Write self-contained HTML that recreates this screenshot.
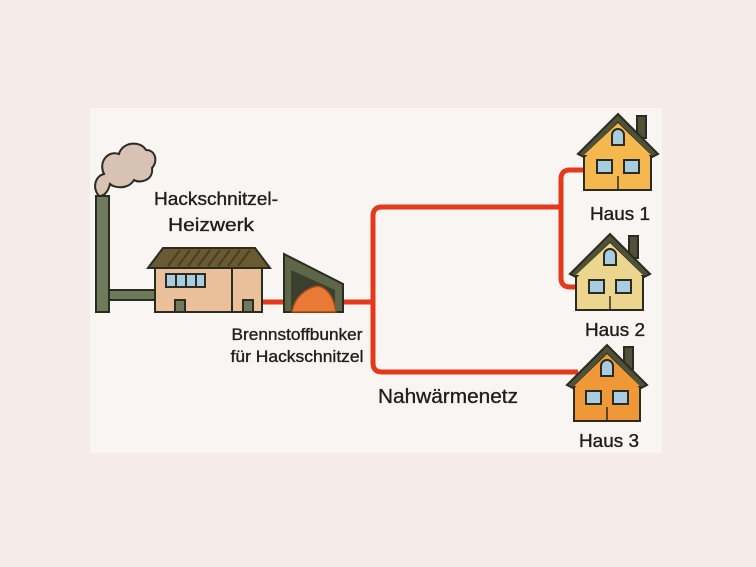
<!DOCTYPE html>
<html><head><meta charset="utf-8"><style>
html,body{margin:0;padding:0;background:#f5ebe8;}
svg{display:block}
text{font-family:"Liberation Sans",sans-serif;fill:#1e1e1e;stroke:#1e1e1e;stroke-width:0.35}
</style></head><body>
<svg width="756" height="567" viewBox="0 0 756 567">
<rect x="0" y="0" width="756" height="567" fill="#f5ebe8"/>
<rect x="90" y="108" width="572" height="345" fill="#f8f5f2"/>
<g fill="none" stroke="#e5391c" stroke-width="5" stroke-linejoin="round">
<path d="M262 302 H373"/>
<path d="M583 170 H570 Q561 170 561 179 V278 Q561 287 570 287 H580"/>
<path d="M561 207 H382 Q373 207 373 216 V363 Q373 372 382 372 H578"/>
</g>
<path d="M99 196 C92 188 95 176 104 174 C98 162 108 150 119 154 C122 142 140 140 146 150 C156 150 158 162 152 168 C154 180 140 184 134 180 C128 190 114 188 110 184 C108 192 104 196 99 196Z" fill="#d7c2b4" stroke="#2b2b22" stroke-width="2"/>
<rect x="96" y="196" width="13" height="116" fill="#6e7a5c" stroke="#2b2b22" stroke-width="2"/>
<rect x="109" y="290" width="47" height="10" fill="#6e7a5c" stroke="#2b2b22" stroke-width="2"/>
<rect x="155" y="265" width="107" height="47" fill="#e9c09a" stroke="#2b2b22" stroke-width="2"/>
<line x1="232" y1="265" x2="232" y2="312" stroke="#2b2b22" stroke-width="2"/>
<path d="M148 268 L163 248 L255 248 L270 268 Z" fill="#6a5a32" stroke="#2b2b22" stroke-width="2"/>
<g stroke="#4a3e22" stroke-width="2">
<line x1="168" y1="266" x2="180" y2="250"/><line x1="178" y1="266" x2="190" y2="250"/><line x1="188" y1="266" x2="200" y2="250"/><line x1="198" y1="266" x2="210" y2="250"/><line x1="208" y1="266" x2="220" y2="250"/><line x1="218" y1="266" x2="230" y2="250"/><line x1="228" y1="266" x2="240" y2="250"/><line x1="238" y1="266" x2="250" y2="250"/>
</g>
<rect x="166" y="274" width="39" height="13" fill="#a9cde0" stroke="#2b2b22" stroke-width="2"/>
<g stroke="#2b2b22" stroke-width="2"><line x1="176" y1="274" x2="176" y2="287"/><line x1="186" y1="274" x2="186" y2="287"/><line x1="196" y1="274" x2="196" y2="287"/></g>
<rect x="175" y="300" width="10" height="12" fill="#6e7a5c" stroke="#2b2b22" stroke-width="2"/>
<rect x="243" y="300" width="10" height="12" fill="#6e7a5c" stroke="#2b2b22" stroke-width="2"/>
<path d="M284 254 L343 284 L343 312 L284 312 Z" fill="#5e6648" stroke="#2b2b22" stroke-width="2"/>
<path d="M291 270 L335 290 L335 312 L291 312 Z" fill="#3a3f2e"/>
<path d="M292 312 C294 298 305 288 318 286 C328 288 334 298 336 312 Z" fill="#e87a36" stroke="#a84a1a" stroke-width="1.5"/>
<g>
<rect x="584" y="150" width="67" height="40" fill="#f4b84e" stroke="#2b2b22" stroke-width="2"/>
<rect x="637" y="116" width="9" height="22" fill="#4e5236" stroke="#2b2b22" stroke-width="2"/>
<path d="M578 154 L618 114 L658 154 L652 157 L618 123 L584 157 Z" fill="#4e5236" stroke="#2b2b22" stroke-width="2"/>
<path d="M584 155 L618 123 L651 155 Z" fill="#f4b84e"/>
<path d="M612 145 V135 A6 6 0 0 1 624 135 V145 Z" fill="#a9cde0" stroke="#2b2b22" stroke-width="2"/>
<rect x="597" y="160" width="15" height="13" fill="#a9cde0" stroke="#2b2b22" stroke-width="2"/>
<rect x="624" y="160" width="15" height="13" fill="#a9cde0" stroke="#2b2b22" stroke-width="2"/>
<line x1="618" y1="176" x2="618" y2="190" stroke="#2b2b22" stroke-width="1.5"/>
</g>
<g>
<rect x="576" y="270" width="67" height="40" fill="#ecd58e" stroke="#2b2b22" stroke-width="2"/>
<rect x="629" y="236" width="9" height="22" fill="#4e5236" stroke="#2b2b22" stroke-width="2"/>
<path d="M570 274 L610 234 L650 274 L644 277 L610 243 L576 277 Z" fill="#4e5236" stroke="#2b2b22" stroke-width="2"/>
<path d="M576 275 L610 243 L643 275 Z" fill="#ecd58e"/>
<path d="M604 265 V255 A6 6 0 0 1 616 255 V265 Z" fill="#a9cde0" stroke="#2b2b22" stroke-width="2"/>
<rect x="589" y="280" width="15" height="13" fill="#a9cde0" stroke="#2b2b22" stroke-width="2"/>
<rect x="616" y="280" width="15" height="13" fill="#a9cde0" stroke="#2b2b22" stroke-width="2"/>
<line x1="610" y1="296" x2="610" y2="310" stroke="#2b2b22" stroke-width="1.5"/>
</g>
<g>
<rect x="574" y="381" width="66" height="40" fill="#ee9838" stroke="#2b2b22" stroke-width="2"/>
<rect x="624" y="347" width="9" height="22" fill="#4e5236" stroke="#2b2b22" stroke-width="2"/>
<path d="M567 385 L607 345 L647 385 L641 388 L607 354 L573 388 Z" fill="#4e5236" stroke="#2b2b22" stroke-width="2"/>
<path d="M574 386 L607 354 L640 386 Z" fill="#ee9838"/>
<path d="M601 376 V366 A6 6 0 0 1 613 366 V376 Z" fill="#a9cde0" stroke="#2b2b22" stroke-width="2"/>
<rect x="586" y="391" width="15" height="13" fill="#a9cde0" stroke="#2b2b22" stroke-width="2"/>
<rect x="613" y="391" width="15" height="13" fill="#a9cde0" stroke="#2b2b22" stroke-width="2"/>
<line x1="607" y1="407" x2="607" y2="421" stroke="#2b2b22" stroke-width="1.5"/>
</g>
<g text-anchor="middle">
<text x="216" y="205" font-size="18" textLength="124" lengthAdjust="spacingAndGlyphs">Hackschnitzel-</text>
<text x="211" y="231" font-size="18" textLength="86" lengthAdjust="spacingAndGlyphs">Heizwerk</text>
<text x="297" y="340" font-size="17" textLength="131" lengthAdjust="spacingAndGlyphs">Brennstoffbunker</text>
<text x="297" y="362" font-size="17" textLength="133" lengthAdjust="spacingAndGlyphs">für Hackschnitzel</text>
<text x="620" y="220" font-size="18" textLength="60" lengthAdjust="spacingAndGlyphs">Haus 1</text>
<text x="615" y="336" font-size="18" textLength="60" lengthAdjust="spacingAndGlyphs">Haus 2</text>
<text x="609" y="447" font-size="18" textLength="60" lengthAdjust="spacingAndGlyphs">Haus 3</text>
<text x="448" y="403" font-size="20" textLength="140" lengthAdjust="spacingAndGlyphs">Nahwärmenetz</text>
</g>
</svg>
</body></html>
